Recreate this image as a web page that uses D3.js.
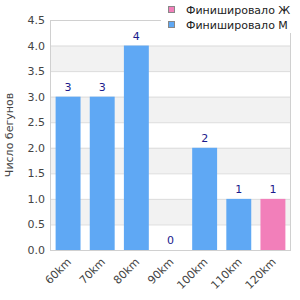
<!DOCTYPE html>
<html>
<head>
<meta charset="utf-8">
<script src="https://cdn.jsdelivr.net/npm/d3@7"></script>
<style>
  body { margin: 0; background: #fff; }
  svg text { font-family: "DejaVu Sans", sans-serif; }
</style>
</head>
<body>
<svg id="chart" width="300" height="300"></svg>
<script>
const categories = ["60km", "70km", "80km", "90km", "100km", "110km", "120km"]
const finishedM = [3, 3, 4, 0, 2, 1, 0]
const finishedF = [0, 0, 0, 0, 0, 0, 1]
const seriesNames = ["Финишировало Ж", "Финишировало М"]
const yTicks = [0, 0.5, 1, 1.5, 2, 2.5, 3, 3.5, 4, 4.5]
const yLabel = "Число бегунов"

const colors = { F: "#f27fba", M: "#5fa8f4" }

const W = 300, H = 300
const m = { top: 20, right: 10, bottom: 50, left: 51 }
const svg = d3.select("#chart")

const x = d3.scaleBand().domain(categories).range([m.left, W - m.right])
  .paddingInner(0.27).paddingOuter(0.135)
const y = d3.scaleLinear().domain([0, 4.5]).range([H - m.bottom, m.top])

// alternating bands
svg.append("g").selectAll("rect")
  .data(yTicks.slice(0, -1).filter((_, i) => i % 2 === 1))
  .enter().append("rect")
    .attr("x", m.left).attr("width", W - m.right - m.left)
    .attr("y", d => y(d + 0.5)).attr("height", d => y(d) - y(d + 0.5))
    .attr("fill", "#f2f2f2")

// grid lines
svg.append("g").selectAll("line")
  .data(yTicks)
  .enter().append("line")
    .attr("x1", m.left).attr("x2", W - m.right)
    .attr("y1", d => y(d) + 0.5).attr("y2", d => y(d) + 0.5)
    .attr("stroke", "#dcdcdc")

// frame
svg.append("rect")
  .attr("x", m.left - 0.5).attr("y", m.top + 0.5)
  .attr("width", W - m.right - m.left + 1).attr("height", y(0) - m.top)
  .attr("fill", "none").attr("stroke", "#d0d0d0")

const data = categories.map((c, i) => ({ c, m: finishedM[i], f: finishedF[i] }))

// bars: show the series that is present
const bars = data.map(d => d.f > 0 ? { c: d.c, v: d.f, color: colors.F } : { c: d.c, v: d.m, color: colors.M })

svg.append("g").selectAll("rect")
  .data(bars)
  .enter().append("rect")
    .attr("x", d => x(d.c)).attr("width", x.bandwidth())
    .attr("y", d => y(d.v)).attr("height", d => y(0) - y(d.v))
    .attr("fill", d => d.color)

svg.append("g").selectAll("text")
  .data(bars)
  .enter().append("text")
    .attr("x", d => x(d.c) + x.bandwidth() / 2)
    .attr("y", d => y(d.v) - 6)
    .attr("text-anchor", "middle")
    .attr("font-size", 11)
    .attr("fill", "#1a1a8c")
    .text(d => d.v)

// y tick labels
svg.append("g").selectAll("text")
  .data(yTicks)
  .enter().append("text")
    .attr("x", m.left - 6)
    .attr("y", d => y(d) + 4)
    .attr("text-anchor", "end")
    .attr("font-size", 11)
    .attr("fill", "#444")
    .text(d => d.toFixed(1))

// x tick labels
svg.append("g").selectAll("text")
  .data(categories)
  .enter().append("text")
    .attr("transform", d => `translate(${x(d) + x.bandwidth() / 2 + 1},${y(0) + 10}) rotate(-45)`)
    .attr("text-anchor", "end")
    .attr("dy", "0.35em")
    .attr("font-size", 11)
    .attr("fill", "#444")
    .text(d => d)

// y axis title
svg.append("text")
  .attr("transform", `translate(13,${(m.top + y(0)) / 2}) rotate(-90)`)
  .attr("text-anchor", "middle")
  .attr("font-size", 11)
  .attr("fill", "#444")
  .text(yLabel)

// legend
const legend = svg.append("g")
legend.append("rect").attr("x", 161).attr("y", 0).attr("width", 139).attr("height", 33).attr("fill", "#fff")
const items = legend.selectAll("g.item")
  .data(seriesNames)
  .enter().append("g").classed("item", true)
    .attr("transform", (_, i) => `translate(168,${6 + i * 15})`)
items.append("rect")
  .attr("x", 0.5).attr("y", 0.5).attr("width", 6).attr("height", 6)
  .attr("fill", (_, i) => i ? colors.M : colors.F)
  .attr("stroke", "#888")
items.append("text")
  .attr("x", 18).attr("y", 7.5)
  .attr("font-size", 11)
  .attr("fill", "#222")
  .text(d => d)
</script>
</body>
</html>
